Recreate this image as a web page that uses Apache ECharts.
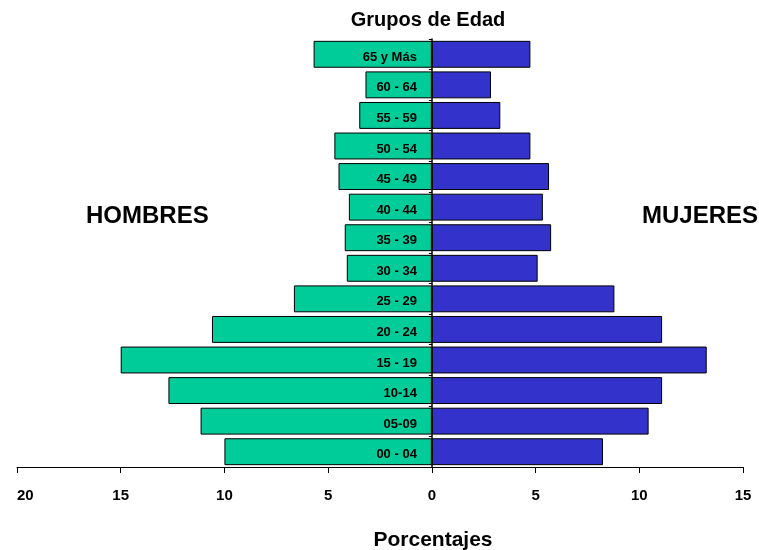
<!DOCTYPE html>
<html>
<head>
<meta charset="utf-8">
<script src="https://cdn.jsdelivr.net/npm/echarts@6/dist/echarts.min.js"></script>
<style>html,body{margin:0;padding:0;background:#fff}#c{width:759px;height:550px}</style>
</head>
<body>
<div id="c"></div>
<script>
var categories = ['00 - 04','05-09','10-14','15 - 19','20 - 24','25 - 29','30 - 34','35 - 39','40 - 44','45 - 49','50 - 54','55 - 59','60 - 64','65 y Más'];
var hombres = [10.0, 11.15, 12.7, 15.0, 10.6, 6.65, 4.1, 4.2, 4.0, 4.5, 4.7, 3.5, 3.2, 5.7];
var mujeres = [8.25, 10.45, 11.1, 13.25, 11.1, 8.8, 5.1, 5.75, 5.35, 5.65, 4.75, 3.3, 2.85, 4.75];
var xTicks = [-20, -15, -10, -5, 0, 5, 10, 15];

var chart = echarts.init(document.getElementById('c'));
var F = 'Liberation Sans, Arial, sans-serif';
chart.setOption({
  animation: false,
  textStyle: {fontFamily: F},
  title: [
    {text: 'Grupos de Edad', left: 423, top: 5, textAlign: 'center', textStyle: {fontSize: 20, fontWeight: 'bold', color: '#000', fontFamily: F}},
    {text: 'Porcentajes', left: 428, top: 525, textAlign: 'center', textStyle: {fontSize: 21, fontWeight: 'bold', color: '#000', fontFamily: F}}
  ],
  graphic: [
    {type: 'text', left: 86, top: 204, style: {text: 'HOMBRES', font: 'bold 24px Liberation Sans, Arial', fill: '#000'}},
    {type: 'text', left: 642, top: 204, style: {text: 'MUJERES', font: 'bold 24px Liberation Sans, Arial', fill: '#000'}}
  ],
  grid: {left: 17, right: 16, top: 39, bottom: 83, containLabel: false, outerBoundsMode: 'none'},
  xAxis: {
    type: 'value', min: -20, max: 15, interval: 5,
    axisLine: {show: true, onZero: false, lineStyle: {color: '#000', width: 1}},
    axisTick: {show: true, length: 6, lineStyle: {color: '#000'}},
    splitLine: {show: false},
    axisLabel: {margin: 21, fontSize: 15, fontWeight: 'bold', color: '#000', fontFamily: F,
      alignMinLabel: 'left',
      formatter: function (v) { return Math.abs(v); }}
  },
  yAxis: {
    type: 'category', data: categories, z: 10,
    axisLine: {show: true, onZero: true, lineStyle: {color: '#000', width: 1.5}},
    axisTick: {show: true, length: 3, inside: false, lineStyle: {color: '#000'}},
    axisLabel: {show: false}
  },
  series: [
    {name: 'Hombres', type: 'bar', stack: 't', barCategoryGap: '12%',
     data: hombres.map(function (v) { return -v; }),
     label: {show: true, position: 'insideRight', distance: 15, offset: [0, 3],
       formatter: function (p) { return categories[p.dataIndex]; },
       fontSize: 13, fontWeight: 'bold', color: '#000', fontFamily: F},
     itemStyle: {color: '#00CC99', borderColor: '#000', borderWidth: 1}},
    {name: 'Mujeres', type: 'bar', stack: 't', barCategoryGap: '12%',
     data: mujeres,
     itemStyle: {color: '#3333CC', borderColor: '#000', borderWidth: 1}}
  ]
});
</script>
</body>
</html>
